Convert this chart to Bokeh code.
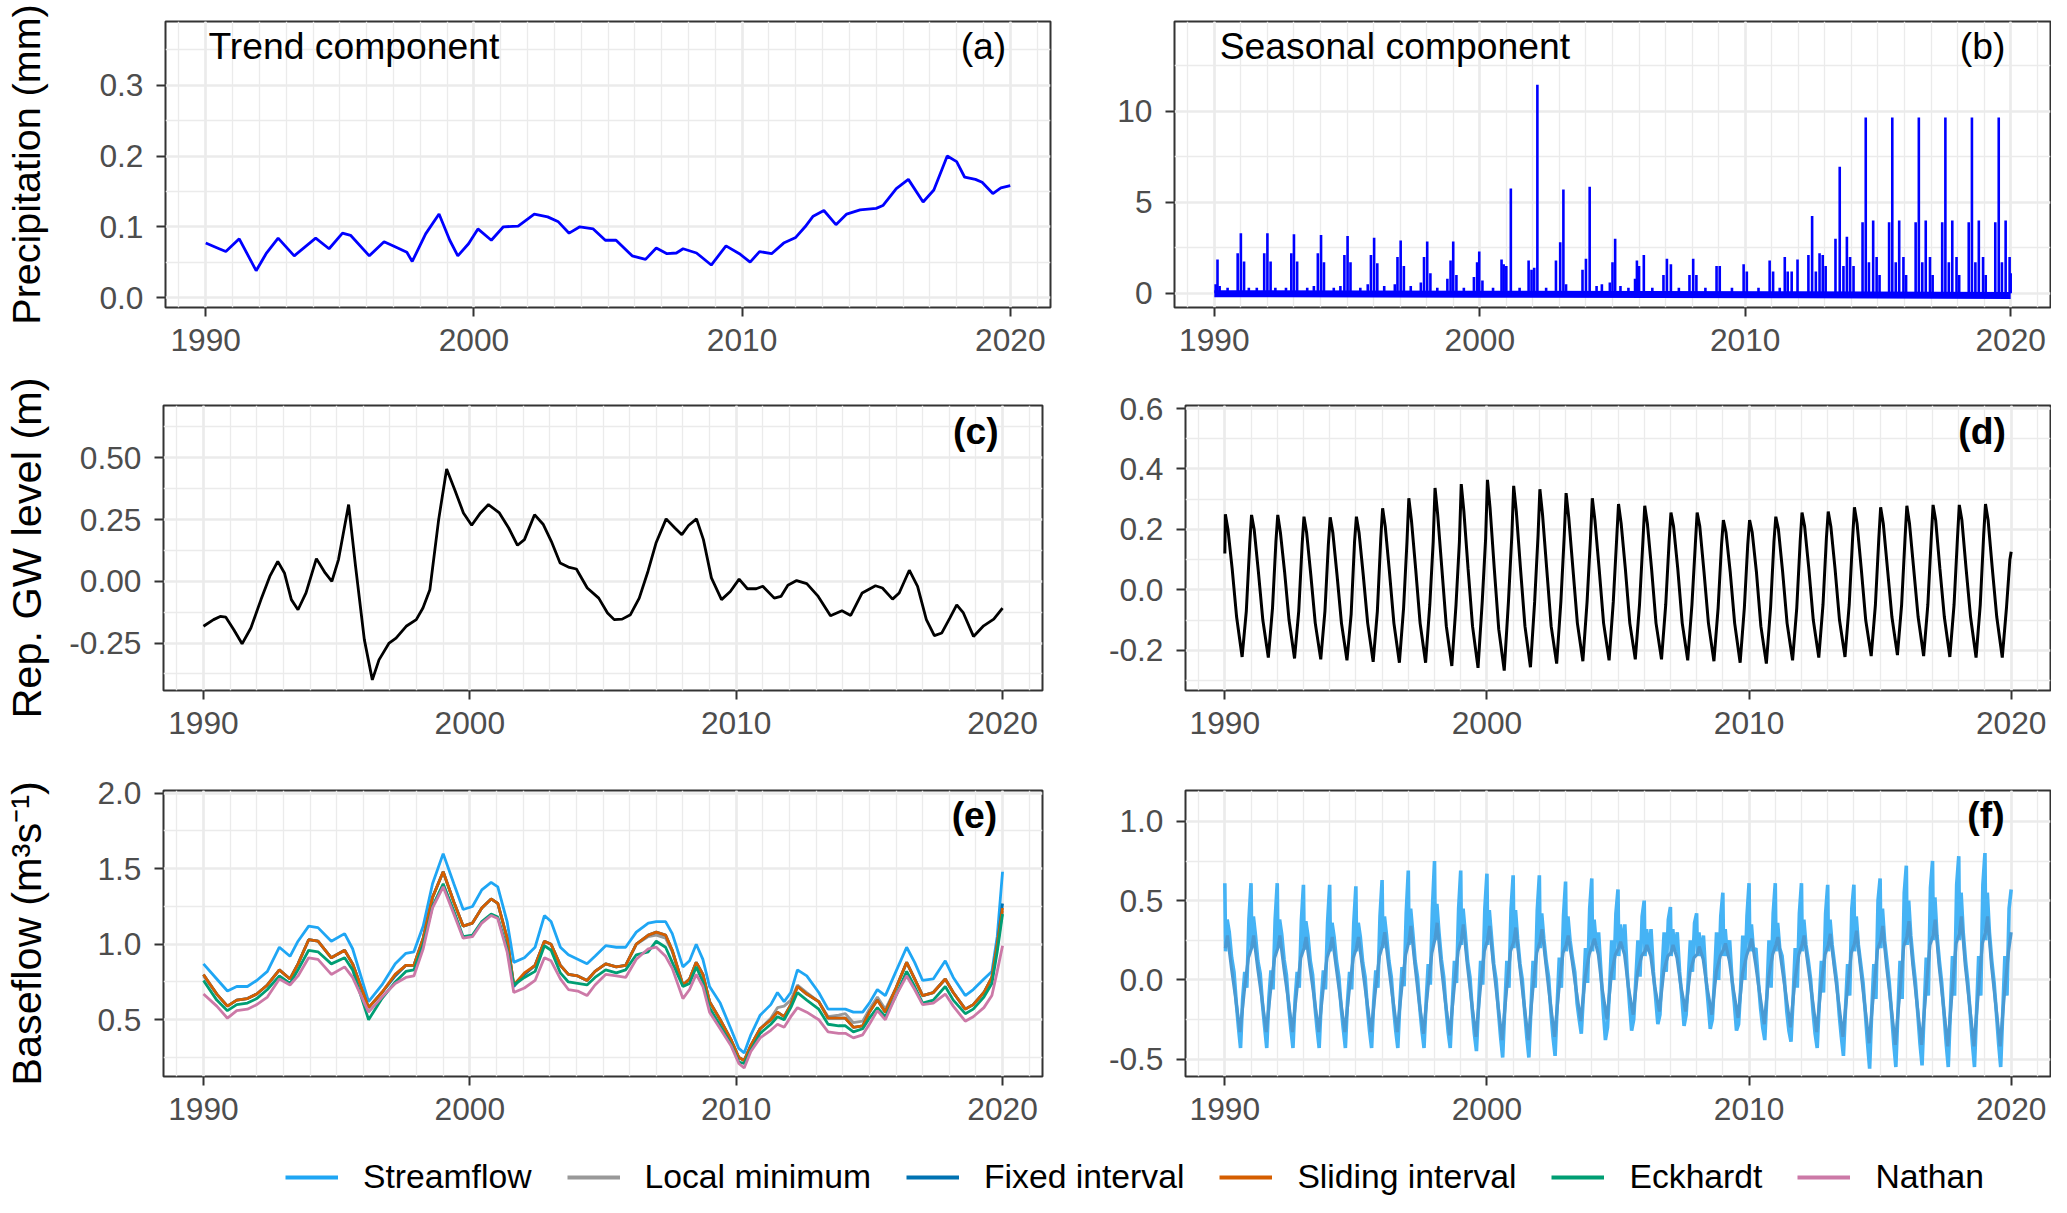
from bokeh.plotting import figure
from bokeh.models import Range1d, FixedTicker, PrintfTickFormatter, Label, Legend, LegendItem
from bokeh.layouts import column, row
from bokeh.embed import file_html
from bokeh.resources import INLINE

FONT = "Liberation Sans"
TICK_FS = "31.7px"
TITLE_FS = "41.5px"
TITLE_FS_A = "39.5px"
ANN_FS = "37.3px"
LEG_FS = "33.7px"

# ---------------- data ----------------
x_major = [1990, 2000, 2010, 2020]
x_minor = list(range(1988, 2023))

# (a) precipitation trend component (year, mm)
a_trend = [(1990.0, 0.077), (1990.5, 0.069), (1990.75, 0.065), (1991.25, 0.083), (1991.88, 0.038),
           (1992.25, 0.062), (1992.7, 0.084), (1993.3, 0.059), (1994.1, 0.084), (1994.6, 0.069),
           (1995.1, 0.091), (1995.4, 0.088), (1996.1, 0.059), (1996.65, 0.079), (1997.0, 0.073),
           (1997.5, 0.064), (1997.7, 0.051), (1998.2, 0.090), (1998.7, 0.118), (1999.1, 0.081),
           (1999.4, 0.059), (1999.8, 0.076), (2000.15, 0.097), (2000.65, 0.081), (2001.1, 0.100),
           (2001.65, 0.101), (2002.25, 0.118), (2002.75, 0.114), (2003.15, 0.107), (2003.55, 0.091),
           (2003.95, 0.100), (2004.45, 0.097), (2004.9, 0.081), (2005.3, 0.081), (2005.9, 0.059),
           (2006.4, 0.054), (2006.8, 0.070), (2007.2, 0.062), (2007.55, 0.063), (2007.8, 0.069),
           (2008.3, 0.063), (2008.85, 0.046), (2009.4, 0.073), (2009.9, 0.062), (2010.3, 0.050),
           (2010.65, 0.065), (2011.1, 0.062), (2011.55, 0.077), (2012.0, 0.085), (2012.35, 0.100),
           (2012.65, 0.115), (2013.05, 0.123), (2013.5, 0.103), (2013.9, 0.118), (2014.4, 0.124),
           (2015.0, 0.126), (2015.25, 0.130), (2015.75, 0.154), (2016.2, 0.167), (2016.75, 0.135),
           (2017.15, 0.152), (2017.65, 0.200), (2018.0, 0.192), (2018.3, 0.170), (2018.7, 0.167),
           (2018.95, 0.163), (2019.35, 0.147), (2019.65, 0.155), (2020.0, 0.158)]

# (b) precipitation seasonal component: spikes (year, mm) and the dense band near zero
b_spikes = [(1990.05, 0.5), (1990.12, 1.85), (1990.2, 0.4), (1990.5, 0.3),
            (1990.88, 2.2), (1991.0, 3.3), (1991.12, 1.75), (1991.3, 0.3), (1991.6, 0.3),
            (1991.88, 2.2), (1992.0, 3.3), (1992.12, 1.75), (1992.3, 0.3), (1992.7, 0.3),
            (1992.9, 2.2), (1993.0, 3.25), (1993.12, 1.75), (1993.5, 0.3), (1993.75, 0.4),
            (1993.9, 2.2), (1994.02, 3.2), (1994.13, 1.7), (1994.5, 0.3), (1994.75, 0.4),
            (1994.9, 2.1), (1995.02, 3.15), (1995.13, 1.7), (1995.5, 0.3), (1995.78, 0.5),
            (1995.9, 2.1), (1996.02, 3.05), (1996.14, 1.65), (1996.4, 0.4), (1996.8, 0.5),
            (1996.9, 2.0), (1997.02, 2.9), (1997.14, 1.5), (1997.4, 0.4), (1997.78, 0.6),
            (1997.9, 2.0), (1998.02, 2.85), (1998.14, 1.1), (1998.4, 0.3), (1998.78, 0.8),
            (1998.9, 1.8), (1999.0, 2.85), (1999.12, 1.0), (1999.4, 0.3), (1999.78, 0.9),
            (1999.9, 1.7), (1999.98, 2.3), (2000.1, 0.7), (2000.5, 0.3),
            (2000.82, 1.85), (2000.9, 1.6), (2001.0, 1.5), (2001.17, 5.75), (2001.5, 0.3),
            (2001.84, 1.8), (2001.95, 1.3), (2002.05, 1.4), (2002.17, 11.45), (2002.5, 0.3),
            (2002.87, 1.8), (2003.03, 2.8), (2003.15, 5.7), (2003.25, 0.5),
            (2003.87, 1.3), (2004.0, 1.9), (2004.14, 5.85), (2004.4, 0.4), (2004.6, 0.5),
            (2004.9, 0.6), (2005.0, 1.7), (2005.1, 3.0), (2005.3, 0.4), (2005.6, 0.3),
            (2005.85, 0.8), (2005.92, 1.8), (2006.0, 1.5), (2006.18, 2.1), (2006.5, 0.3),
            (2006.92, 1.0), (2007.05, 1.9), (2007.2, 1.6), (2007.5, 0.3),
            (2007.9, 1.0), (2008.04, 1.9), (2008.16, 1.0), (2008.5, 0.3),
            (2008.92, 1.5), (2009.04, 1.5), (2009.5, 0.3),
            (2009.94, 1.6), (2010.06, 1.2), (2010.5, 0.3),
            (2010.92, 1.8), (2011.05, 1.2), (2011.3, 0.3),
            (2011.49, 2.0), (2011.6, 1.2), (2011.75, 1.2), (2011.97, 1.85),
            (2012.38, 2.1), (2012.52, 4.25), (2012.66, 1.2), (2012.8, 2.2), (2012.92, 2.1), (2013.03, 1.5),
            (2013.4, 3.0), (2013.56, 6.95), (2013.7, 1.5), (2013.83, 3.1), (2013.95, 2.0), (2014.08, 1.5),
            (2014.42, 3.9), (2014.54, 9.65), (2014.66, 1.7), (2014.82, 4.0), (2014.95, 2.0), (2015.06, 1.0),
            (2015.42, 3.9), (2015.54, 9.65), (2015.67, 1.7), (2015.8, 4.0), (2015.96, 2.0), (2016.06, 1.0),
            (2016.42, 3.9), (2016.54, 9.65), (2016.67, 1.7), (2016.8, 4.0), (2016.96, 2.0), (2017.06, 1.0),
            (2017.42, 3.9), (2017.54, 9.65), (2017.67, 1.7), (2017.8, 4.0), (2017.96, 2.0), (2018.06, 1.0),
            (2018.42, 3.9), (2018.54, 9.65), (2018.67, 1.7), (2018.8, 4.0), (2018.96, 2.0), (2019.06, 1.0),
            (2019.42, 3.9), (2019.55, 9.65), (2019.67, 1.7), (2019.81, 4.0), (2019.96, 2.0), (2020.0, 1.1)]
b_band = [(1990.0, -0.02), (2000.0, -0.05), (2012.0, -0.08), (2020.0, -0.12)]

# (c) representative GW level trend component (year, m)
c_trend = [(1990.0, -0.182), (1990.38, -0.155), (1990.63, -0.142), (1990.84, -0.145), (1991.14, -0.196),
           (1991.45, -0.253), (1991.78, -0.189), (1992.16, -0.074), (1992.49, 0.020), (1992.79, 0.081),
           (1993.04, 0.034), (1993.30, -0.074), (1993.55, -0.115), (1993.85, -0.047), (1994.24, 0.092),
           (1994.57, 0.034), (1994.82, 0.0), (1995.07, 0.088), (1995.45, 0.311), (1995.71, 0.061),
           (1996.04, -0.236), (1996.34, -0.399), (1996.59, -0.318), (1996.97, -0.250), (1997.23, -0.230),
           (1997.61, -0.182), (1997.99, -0.155), (1998.24, -0.108), (1998.50, -0.034), (1998.83, 0.250),
           (1999.13, 0.455), (1999.43, 0.372), (1999.76, 0.277), (2000.07, 0.227), (2000.40, 0.277),
           (2000.70, 0.311), (2001.11, 0.277), (2001.46, 0.216), (2001.79, 0.146), (2002.05, 0.169),
           (2002.43, 0.270), (2002.76, 0.230), (2003.06, 0.162), (2003.39, 0.074), (2003.70, 0.058),
           (2004.00, 0.050), (2004.41, -0.027), (2004.84, -0.068), (2005.17, -0.128), (2005.42, -0.155),
           (2005.72, -0.153), (2006.03, -0.135), (2006.36, -0.068), (2006.69, 0.041), (2006.99, 0.155),
           (2007.37, 0.253), (2007.70, 0.216), (2007.96, 0.189), (2008.21, 0.226), (2008.51, 0.253),
           (2008.77, 0.169), (2009.07, 0.014), (2009.45, -0.074), (2009.78, -0.041), (2010.11, 0.009),
           (2010.42, -0.030), (2010.75, -0.030), (2011.00, -0.020), (2011.43, -0.068), (2011.68, -0.061),
           (2011.94, -0.016), (2012.27, 0.003), (2012.65, -0.009), (2013.08, -0.061), (2013.54, -0.139),
           (2013.97, -0.119), (2014.30, -0.138), (2014.73, -0.047), (2015.23, -0.018), (2015.49, -0.027),
           (2015.87, -0.072), (2016.12, -0.047), (2016.50, 0.045), (2016.81, -0.020), (2017.14, -0.155),
           (2017.44, -0.220), (2017.72, -0.209), (2018.02, -0.149), (2018.28, -0.095), (2018.53, -0.128),
           (2018.91, -0.223), (2019.29, -0.180), (2019.67, -0.153), (2020.0, -0.108)]

# (d) GW level seasonal component: one row per year, values at the fractions of the year in d_offsets
d_offsets = [0.02, 0.12, 0.28, 0.45, 0.66, 0.82, 0.95]
d_years = list(range(1990, 2020))
d_rows = [[0.250, 0.20, 0.07, -0.09, -0.222, -0.07, 0.15],
          [0.248, 0.20, 0.06, -0.10, -0.224, -0.06, 0.16],
          [0.248, 0.19, 0.06, -0.10, -0.227, -0.07, 0.15],
          [0.242, 0.19, 0.05, -0.11, -0.230, -0.07, 0.15],
          [0.240, 0.19, 0.05, -0.11, -0.233, -0.08, 0.16],
          [0.242, 0.19, 0.05, -0.11, -0.238, -0.07, 0.17],
          [0.270, 0.21, 0.06, -0.11, -0.241, -0.06, 0.16],
          [0.303, 0.23, 0.07, -0.11, -0.241, -0.05, 0.16],
          [0.337, 0.25, 0.07, -0.12, -0.252, -0.05, 0.16],
          [0.350, 0.26, 0.07, -0.12, -0.258, -0.04, 0.17],
          [0.364, 0.27, 0.07, -0.13, -0.267, -0.04, 0.18],
          [0.344, 0.26, 0.07, -0.12, -0.256, -0.04, 0.18],
          [0.333, 0.25, 0.07, -0.12, -0.244, -0.04, 0.18],
          [0.320, 0.24, 0.07, -0.11, -0.236, -0.04, 0.17],
          [0.303, 0.23, 0.07, -0.11, -0.233, -0.04, 0.17],
          [0.284, 0.22, 0.07, -0.11, -0.230, -0.05, 0.16],
          [0.278, 0.22, 0.07, -0.11, -0.230, -0.05, 0.16],
          [0.256, 0.21, 0.07, -0.11, -0.233, -0.05, 0.15],
          [0.256, 0.21, 0.06, -0.11, -0.236, -0.06, 0.15],
          [0.231, 0.19, 0.06, -0.11, -0.241, -0.06, 0.15],
          [0.231, 0.19, 0.06, -0.12, -0.244, -0.06, 0.16],
          [0.242, 0.20, 0.06, -0.11, -0.233, -0.06, 0.16],
          [0.256, 0.21, 0.07, -0.10, -0.224, -0.05, 0.17],
          [0.259, 0.21, 0.07, -0.10, -0.222, -0.05, 0.17],
          [0.273, 0.22, 0.07, -0.10, -0.219, -0.05, 0.17],
          [0.273, 0.22, 0.07, -0.09, -0.216, -0.05, 0.17],
          [0.278, 0.22, 0.07, -0.09, -0.219, -0.05, 0.17],
          [0.281, 0.23, 0.07, -0.09, -0.222, -0.05, 0.17],
          [0.281, 0.23, 0.07, -0.09, -0.224, -0.05, 0.18],
          [0.284, 0.23, 0.07, -0.09, -0.224, -0.06, 0.10]]
d_start = (1990.0, 0.12)
d_end = (2020.0, 0.126)

# (e) baseflow trend component: year, Streamflow, Local minimum, Fixed interval, Sliding interval, Eckhardt, Nathan
e_year = [1990.0, 1990.5, 1990.9, 1991.25, 1991.65, 1992.0, 1992.4, 1992.85, 1993.25, 1993.55,
          1993.95, 1994.3, 1994.8, 1995.3, 1995.6, 1996.2, 1996.7, 1997.2, 1997.6, 1997.9,
          1998.25, 1998.6, 1999.0, 1999.4, 1999.75, 2000.1, 2000.45, 2000.8, 2001.05, 2001.4,
          2001.65, 2002.05, 2002.45, 2002.8, 2003.05, 2003.4, 2003.7, 2004.05, 2004.4, 2004.7,
          2005.1, 2005.5, 2005.85, 2006.25, 2006.7, 2007.0, 2007.35, 2007.6, 2008.0, 2008.25,
          2008.5, 2008.75, 2009.0, 2009.4, 2009.8, 2010.1, 2010.3, 2010.55, 2010.9, 2011.3,
          2011.55, 2011.8, 2012.05, 2012.3, 2012.65, 2013.1, 2013.45, 2013.85, 2014.1, 2014.4,
          2014.75, 2015.0, 2015.3, 2015.6, 2016.0, 2016.4, 2016.7, 2017.0, 2017.4, 2017.85,
          2018.15, 2018.6, 2018.9, 2019.3, 2019.6, 2019.8, 2020.0]
e_streamflow = [0.87, 0.77, 0.69, 0.72, 0.72, 0.76, 0.82, 0.98, 0.92, 1.02,
                1.12, 1.11, 1.02, 1.07, 0.97, 0.62, 0.73, 0.87, 0.94, 0.95,
                1.12, 1.40, 1.60, 1.40, 1.23, 1.25, 1.36, 1.41, 1.38, 1.15,
                0.88, 0.91, 0.98, 1.19, 1.15, 0.98, 0.93, 0.90, 0.87, 0.92,
                0.99, 0.98, 0.98, 1.08, 1.14, 1.15, 1.15, 1.07, 0.85, 0.89,
                1.00, 0.90, 0.72, 0.61, 0.44, 0.31, 0.28, 0.40, 0.53, 0.60,
                0.68, 0.62, 0.68, 0.83, 0.79, 0.68, 0.57, 0.57, 0.57, 0.55,
                0.55, 0.61, 0.70, 0.66, 0.82, 0.98, 0.88, 0.76, 0.77, 0.89,
                0.78, 0.66, 0.70, 0.77, 0.82, 1.05, 1.48]
e_local_min = [0.79, 0.67, 0.59, 0.63, 0.64, 0.67, 0.73, 0.83, 0.77, 0.87,
               1.03, 1.02, 0.91, 0.96, 0.87, 0.58, 0.68, 0.80, 0.86, 0.86,
               1.04, 1.31, 1.48, 1.28, 1.12, 1.14, 1.24, 1.30, 1.27, 1.04,
               0.73, 0.80, 0.86, 1.02, 1.00, 0.86, 0.80, 0.79, 0.76, 0.82,
               0.87, 0.85, 0.86, 1.00, 1.05, 1.06, 1.04, 0.95, 0.73, 0.77,
               0.88, 0.80, 0.62, 0.50, 0.37, 0.25, 0.23, 0.33, 0.44, 0.51,
               0.58, 0.59, 0.63, 0.73, 0.68, 0.62, 0.52, 0.53, 0.54, 0.48,
               0.49, 0.57, 0.65, 0.57, 0.71, 0.88, 0.77, 0.66, 0.68, 0.77,
               0.68, 0.57, 0.60, 0.68, 0.78, 0.98, 1.22]
e_fixed = [0.80, 0.67, 0.59, 0.63, 0.64, 0.67, 0.73, 0.83, 0.77, 0.87,
           1.03, 1.02, 0.91, 0.96, 0.87, 0.58, 0.68, 0.79, 0.86, 0.86,
           1.04, 1.31, 1.48, 1.28, 1.12, 1.14, 1.24, 1.30, 1.27, 1.04,
           0.72, 0.80, 0.86, 1.02, 1.00, 0.86, 0.80, 0.79, 0.76, 0.82,
           0.87, 0.85, 0.86, 1.00, 1.06, 1.08, 1.06, 0.96, 0.73, 0.77,
           0.88, 0.80, 0.62, 0.50, 0.37, 0.25, 0.23, 0.33, 0.44, 0.50,
           0.55, 0.52, 0.60, 0.72, 0.67, 0.62, 0.51, 0.51, 0.51, 0.45,
           0.46, 0.55, 0.63, 0.55, 0.71, 0.88, 0.77, 0.66, 0.68, 0.77,
           0.68, 0.57, 0.60, 0.68, 0.78, 1.00, 1.27]
e_sliding = [0.80, 0.67, 0.59, 0.63, 0.64, 0.67, 0.73, 0.83, 0.77, 0.87,
             1.03, 1.02, 0.91, 0.96, 0.87, 0.58, 0.68, 0.80, 0.86, 0.86,
             1.04, 1.31, 1.48, 1.28, 1.12, 1.14, 1.24, 1.30, 1.27, 1.04,
             0.73, 0.81, 0.86, 1.02, 1.00, 0.86, 0.80, 0.79, 0.76, 0.82,
             0.87, 0.85, 0.86, 1.00, 1.06, 1.08, 1.06, 0.96, 0.73, 0.77,
             0.88, 0.80, 0.62, 0.50, 0.37, 0.25, 0.23, 0.33, 0.44, 0.50,
             0.55, 0.52, 0.60, 0.72, 0.67, 0.62, 0.51, 0.51, 0.51, 0.45,
             0.46, 0.55, 0.63, 0.55, 0.71, 0.88, 0.77, 0.66, 0.68, 0.77,
             0.68, 0.57, 0.60, 0.68, 0.78, 1.00, 1.24]
e_eckhardt = [0.76, 0.63, 0.56, 0.60, 0.61, 0.64, 0.70, 0.79, 0.74, 0.83,
              0.96, 0.95, 0.87, 0.91, 0.83, 0.50, 0.64, 0.75, 0.82, 0.83,
              1.00, 1.25, 1.40, 1.22, 1.05, 1.06, 1.15, 1.20, 1.18, 0.97,
              0.73, 0.78, 0.82, 0.99, 0.96, 0.81, 0.75, 0.74, 0.73, 0.78,
              0.83, 0.81, 0.83, 0.93, 0.95, 1.02, 0.98, 0.88, 0.72, 0.74,
              0.85, 0.75, 0.58, 0.46, 0.34, 0.22, 0.21, 0.30, 0.41, 0.47,
              0.52, 0.50, 0.58, 0.68, 0.63, 0.57, 0.47, 0.46, 0.46, 0.42,
              0.44, 0.51, 0.58, 0.52, 0.66, 0.82, 0.72, 0.61, 0.63, 0.72,
              0.63, 0.54, 0.57, 0.65, 0.74, 0.95, 1.20]
e_nathan = [0.67, 0.59, 0.51, 0.56, 0.57, 0.60, 0.65, 0.77, 0.73, 0.79,
            0.91, 0.90, 0.80, 0.85, 0.78, 0.55, 0.65, 0.74, 0.78, 0.79,
            0.97, 1.24, 1.38, 1.20, 1.04, 1.05, 1.14, 1.19, 1.17, 0.95,
            0.68, 0.71, 0.76, 0.91, 0.89, 0.77, 0.70, 0.69, 0.66, 0.73,
            0.80, 0.79, 0.78, 0.90, 0.97, 0.98, 0.92, 0.84, 0.64, 0.70,
            0.80, 0.72, 0.55, 0.44, 0.33, 0.21, 0.18, 0.29, 0.38, 0.43,
            0.47, 0.45, 0.52, 0.58, 0.55, 0.50, 0.42, 0.41, 0.41, 0.38,
            0.40, 0.47, 0.56, 0.50, 0.66, 0.79, 0.70, 0.60, 0.61, 0.67,
            0.59, 0.49, 0.52, 0.58, 0.66, 0.82, 0.99]

# (f) baseflow seasonal component: one row per year at the fractions of the year in f_offsets
f_offsets = [0.00, 0.03, 0.09, 0.17, 0.26, 0.35, 0.44, 0.52, 0.60, 0.68, 0.76, 0.84, 0.92]
f_years = list(range(1990, 2020))
f_streamflow_rows = [
    [0.61, 0.18, 0.38, 0.30, 0.14, 0.05, -0.15, -0.30, -0.43, -0.12, 0.05, -0.05, 0.38],
    [0.61, 0.20, 0.40, 0.28, 0.12, 0.04, -0.16, -0.30, -0.43, -0.12, 0.06, -0.06, 0.38],
    [0.61, 0.20, 0.38, 0.29, 0.13, 0.03, -0.17, -0.31, -0.43, -0.13, 0.05, -0.05, 0.37],
    [0.60, 0.19, 0.37, 0.28, 0.12, 0.03, -0.17, -0.31, -0.43, -0.13, 0.06, -0.06, 0.36],
    [0.60, 0.18, 0.36, 0.27, 0.12, 0.02, -0.18, -0.31, -0.43, -0.14, 0.05, -0.06, 0.36],
    [0.59, 0.18, 0.36, 0.27, 0.11, 0.02, -0.18, -0.32, -0.43, -0.14, 0.06, -0.05, 0.40],
    [0.63, 0.20, 0.40, 0.28, 0.12, 0.02, -0.18, -0.32, -0.43, -0.14, 0.08, -0.04, 0.42],
    [0.69, 0.22, 0.45, 0.30, 0.12, 0.02, -0.18, -0.32, -0.43, -0.14, 0.10, -0.03, 0.45],
    [0.75, 0.25, 0.48, 0.30, 0.13, 0.02, -0.18, -0.33, -0.43, -0.15, 0.12, -0.02, 0.45],
    [0.69, 0.22, 0.45, 0.30, 0.12, 0.02, -0.19, -0.34, -0.45, -0.16, 0.12, -0.03, 0.45],
    [0.67, 0.22, 0.44, 0.28, 0.10, 0.00, -0.20, -0.36, -0.49, -0.18, 0.12, -0.05, 0.45],
    [0.66, 0.20, 0.44, 0.26, 0.10, 0.00, -0.20, -0.36, -0.49, -0.18, 0.12, -0.05, 0.44],
    [0.66, 0.20, 0.42, 0.26, 0.12, 0.02, -0.20, -0.36, -0.48, -0.16, 0.14, -0.05, 0.40],
    [0.62, 0.18, 0.40, 0.25, 0.14, 0.05, -0.15, -0.25, -0.34, -0.10, 0.20, -0.02, 0.45],
    [0.64, 0.18, 0.38, 0.22, 0.30, 0.05, -0.20, -0.38, -0.30, -0.05, 0.25, 0.00, 0.42],
    [0.57, 0.15, 0.35, 0.20, 0.35, 0.05, -0.15, -0.32, -0.25, 0.00, 0.25, 0.02, 0.40],
    [0.50, 0.15, 0.32, 0.18, 0.32, 0.05, -0.12, -0.28, -0.22, 0.05, 0.30, 0.05, 0.38],
    [0.46, 0.15, 0.32, 0.18, 0.30, 0.05, -0.12, -0.29, -0.22, 0.00, 0.25, 0.05, 0.36],
    [0.42, 0.15, 0.30, 0.15, 0.28, 0.02, -0.15, -0.31, -0.25, 0.00, 0.30, 0.00, 0.40],
    [0.55, 0.15, 0.32, 0.15, 0.25, 0.00, -0.15, -0.32, -0.28, -0.05, 0.28, 0.00, 0.40],
    [0.61, 0.18, 0.35, 0.18, 0.20, 0.00, -0.18, -0.30, -0.38, -0.10, 0.25, -0.05, 0.42],
    [0.61, 0.18, 0.36, 0.20, 0.15, 0.00, -0.20, -0.32, -0.39, -0.12, 0.20, -0.05, 0.42],
    [0.61, 0.18, 0.38, 0.22, 0.12, 0.00, -0.20, -0.34, -0.43, -0.14, 0.12, -0.08, 0.42],
    [0.60, 0.18, 0.38, 0.22, 0.10, -0.02, -0.22, -0.36, -0.48, -0.18, 0.10, -0.10, 0.45],
    [0.60, 0.18, 0.40, 0.22, 0.10, -0.02, -0.22, -0.40, -0.56, -0.20, 0.10, -0.12, 0.50],
    [0.64, 0.20, 0.45, 0.25, 0.12, -0.02, -0.22, -0.40, -0.55, -0.20, 0.12, -0.12, 0.55],
    [0.72, 0.22, 0.50, 0.28, 0.12, -0.02, -0.22, -0.40, -0.54, -0.20, 0.14, -0.10, 0.58],
    [0.75, 0.25, 0.52, 0.28, 0.12, -0.02, -0.22, -0.40, -0.55, -0.20, 0.15, -0.10, 0.60],
    [0.78, 0.25, 0.55, 0.30, 0.12, -0.02, -0.22, -0.40, -0.55, -0.20, 0.15, -0.10, 0.60],
    [0.80, 0.25, 0.55, 0.30, 0.12, -0.02, -0.22, -0.40, -0.55, -0.20, 0.15, -0.10, 0.45]]
f_stream_end = (2020.0, 0.57)
f_base_offsets = [0.02, 0.10, 0.25, 0.40, 0.58, 0.75, 0.90]
f_baseflow_rows = [
    [0.20, 0.28, 0.08, -0.10, -0.33, -0.06, 0.14],
    [0.20, 0.28, 0.08, -0.10, -0.33, -0.06, 0.14],
    [0.20, 0.28, 0.08, -0.10, -0.33, -0.06, 0.14],
    [0.20, 0.27, 0.08, -0.10, -0.33, -0.06, 0.14],
    [0.20, 0.27, 0.08, -0.11, -0.33, -0.06, 0.14],
    [0.20, 0.27, 0.08, -0.11, -0.33, -0.06, 0.15],
    [0.22, 0.30, 0.09, -0.11, -0.33, -0.05, 0.16],
    [0.24, 0.34, 0.10, -0.12, -0.34, -0.05, 0.17],
    [0.26, 0.36, 0.10, -0.12, -0.35, -0.05, 0.18],
    [0.25, 0.35, 0.10, -0.12, -0.36, -0.05, 0.18],
    [0.25, 0.34, 0.09, -0.13, -0.38, -0.06, 0.18],
    [0.24, 0.33, 0.09, -0.13, -0.38, -0.06, 0.17],
    [0.24, 0.32, 0.10, -0.12, -0.36, -0.05, 0.17],
    [0.22, 0.28, 0.12, -0.06, -0.26, 0.02, 0.16],
    [0.22, 0.26, 0.16, -0.06, -0.25, 0.04, 0.16],
    [0.20, 0.24, 0.16, -0.05, -0.22, 0.05, 0.15],
    [0.18, 0.22, 0.15, -0.04, -0.20, 0.06, 0.15],
    [0.17, 0.22, 0.14, -0.04, -0.20, 0.05, 0.14],
    [0.16, 0.21, 0.13, -0.05, -0.22, 0.05, 0.15],
    [0.19, 0.23, 0.12, -0.06, -0.24, 0.04, 0.15],
    [0.21, 0.26, 0.10, -0.08, -0.28, 0.02, 0.16],
    [0.22, 0.27, 0.09, -0.09, -0.30, 0.00, 0.16],
    [0.22, 0.28, 0.09, -0.10, -0.33, -0.03, 0.16],
    [0.22, 0.29, 0.08, -0.12, -0.36, -0.06, 0.17],
    [0.23, 0.31, 0.08, -0.14, -0.40, -0.08, 0.19],
    [0.25, 0.34, 0.08, -0.14, -0.41, -0.08, 0.21],
    [0.27, 0.37, 0.09, -0.14, -0.41, -0.07, 0.22],
    [0.28, 0.38, 0.09, -0.14, -0.42, -0.07, 0.23],
    [0.29, 0.40, 0.09, -0.14, -0.42, -0.07, 0.23],
    [0.30, 0.40, 0.09, -0.14, -0.42, -0.07, 0.18]]
f_base_end = (2020.0, 0.30)

legend_names = ["Streamflow", "Local minimum", "Fixed interval", "Sliding interval", "Eckhardt", "Nathan"]
legend_colors = ["#1FA6F4", "#999999", "#0072B2", "#D55E00", "#009E73", "#CC79A7"]


# ---------------- helpers ----------------
def make_panel(w, h, bl, br, bt, bb, y_lo, y_hi, y_major, y_minor, fmt, ylabel=None, als=0, title_fs=TITLE_FS):
    p = figure(width=w, height=h, x_range=Range1d(1988.5, 2021.5), y_range=Range1d(y_lo, y_hi),
               output_backend="svg", toolbar_location=None,
               min_border_left=bl, min_border_right=br, min_border_top=bt, min_border_bottom=bb)
    p.background_fill_color = "white"
    p.border_fill_color = "white"
    p.outline_line_color = "#333333"
    p.outline_line_width = 2
    xt = FixedTicker(ticks=x_major, minor_ticks=x_minor)
    yt = FixedTicker(ticks=y_major, minor_ticks=y_minor)
    p.xaxis.ticker = xt
    p.xgrid.ticker = xt
    p.yaxis.ticker = yt
    p.ygrid.ticker = yt
    p.xaxis.formatter = PrintfTickFormatter(format="%d")
    p.yaxis.formatter = PrintfTickFormatter(format=fmt)
    for ax in (p.xaxis[0], p.yaxis[0]):
        ax.axis_line_color = None
        ax.major_tick_line_color = "#333333"
        ax.major_tick_line_width = 2
        ax.major_tick_out = 9
        ax.major_tick_in = 0
        ax.minor_tick_line_color = None
        ax.major_label_text_font = FONT
        ax.major_label_text_font_size = TICK_FS
        ax.major_label_text_color = "#4D4D4D"
    p.xaxis.major_label_standoff = 12
    p.yaxis.major_label_standoff = 13
    for g in (p.xgrid[0], p.ygrid[0]):
        g.grid_line_color = "#EBEBEB"
        g.grid_line_width = 2.7
        g.minor_grid_line_color = "#EBEBEB"
        g.minor_grid_line_width = 1.35
    if ylabel:
        p.yaxis.axis_label = ylabel
        p.yaxis.axis_label_text_font = FONT
        p.yaxis.axis_label_text_font_size = title_fs
        p.yaxis.axis_label_text_font_style = "normal"
        p.yaxis.axis_label_text_color = "black"
        p.yaxis.axis_label_standoff = als
    return p


def add_label(p, x, y, text, align, bold=False):
    p.add_layout(Label(x=x, y=y, text=text, text_font=FONT, text_font_size=ANN_FS,
                       text_align=align, text_baseline="middle", text_color="black",
                       text_font_style="bold" if bold else "normal"))


def flatten(years, offsets, rows):
    t, v = [], []
    for yr, r in zip(years, rows):
        for o, val in zip(offsets, r):
            t.append(yr + o)
            v.append(val)
    return t, v


WL, WR = 1100, 951

# (a)
pa = make_panel(WL, 359, 165, 50, 21, 52, -0.014, 0.39, [0.0, 0.1, 0.2, 0.3], [0.05, 0.15, 0.25, 0.35],
                "%.1f", "Precipitation (mm)", 48, TITLE_FS_A)
ax_t, ax_v = zip(*a_trend)
pa.line(list(ax_t), list(ax_v), line_color="#0000FF", line_width=2.8)
add_label(pa, 1990.1, 0.355, "Trend component", "left")
add_label(pa, 2019.85, 0.355, "(a)", "right")

# (b)
pb = make_panel(WR, 359, 74, 1, 21, 52, -0.78, 14.93, [0, 5, 10], [2.5, 7.5, 12.5], "%d")
bb_t, bb_v = zip(*b_band)
pb.line(list(bb_t), list(bb_v), line_color="#0000FF", line_width=7)
bs_t, bs_h = zip(*b_spikes)
pb.segment(x0=list(bs_t), y0=[0.0] * len(bs_t), x1=list(bs_t), y1=list(bs_h),
           line_color="#0000FF", line_width=2.6)
add_label(pb, 1990.2, 13.56, "Seasonal component", "left")
add_label(pb, 2019.8, 13.56, "(b)", "right")

# (c)
pc = make_panel(WL, 386, 163, 58, 46, 55, -0.442, 0.712, [-0.25, 0.0, 0.25, 0.5],
                [-0.375, -0.125, 0.125, 0.375, 0.625], "%.2f", "Rep. GW level (m)", 16)
c_t, c_v = zip(*c_trend)
pc.line(list(c_t), list(c_v), line_color="black", line_width=2.8)
add_label(pc, 2019.85, 0.609, "(c)", "right", bold=True)

# (d)
pd_ = make_panel(WR, 386, 85, 1, 46, 55, -0.333, 0.61, [-0.2, 0.0, 0.2, 0.4, 0.6],
                 [-0.3, -0.1, 0.1, 0.3, 0.5], "%.1f")
d_t, d_v = flatten(d_years, d_offsets, d_rows)
d_t = [d_start[0]] + d_t + [d_end[0]]
d_v = [d_start[1]] + d_v + [d_end[1]]
pd_.line(d_t, d_v, line_color="black", line_width=3.0)
add_label(pd_, 2019.8, 0.527, "(d)", "right", bold=True)

# (e)
pe = make_panel(WL, 386, 163, 58, 45, 55, 0.124, 2.018, [0.5, 1.0, 1.5, 2.0], [0.25, 0.75, 1.25, 1.75],
                "%.1f", "Baseflow (m\u00b3s\u207b\u00b9)", 44)
for vals, col in zip([e_streamflow, e_local_min, e_fixed, e_sliding, e_eckhardt, e_nathan], legend_colors):
    pe.line(e_year, vals, line_color=col, line_width=2.8)
add_label(pe, 2019.8, 1.857, "(e)", "right", bold=True)

# (f)
pf = make_panel(WR, 386, 85, 1, 45, 55, -0.61, 1.195, [-0.5, 0.0, 0.5, 1.0], [-0.25, 0.25, 0.75], "%.1f")
fs_t, fs_v = flatten(f_years, f_offsets, f_streamflow_rows)
fs_t.append(f_stream_end[0]); fs_v.append(f_stream_end[1])
fb_t, fb_v = flatten(f_years, f_base_offsets, f_baseflow_rows)
fb_t.append(f_base_end[0]); fb_v.append(f_base_end[1])
pf.line(fs_t, fs_v, line_color="#45B3F5", line_width=3.6)
pf.line(fb_t, fb_v, line_color="#4A9AD3", line_width=3.2)
add_label(pf, 2019.75, 1.04, "(f)", "right", bold=True)

# legend strip
pl = figure(width=WL + WR, height=66, x_range=Range1d(0, 1), y_range=Range1d(0, 1),
            output_backend="svg", toolbar_location=None, min_border=0,
            x_axis_type=None, y_axis_type=None)
pl.outline_line_color = None
pl.background_fill_color = "white"
pl.border_fill_color = "white"
items = []
for name, col in zip(legend_names, legend_colors):
    r = pl.line(x=[5, 6], y=[5, 6], line_color=col, line_width=4)
    items.append(LegendItem(label=name, renderers=[r]))
leg = Legend(items=items, orientation="horizontal", location=(285, 1),
             label_text_font=FONT, label_text_font_size=LEG_FS, label_text_color="black",
             label_standoff=25, glyph_width=53, glyph_height=30, spacing=35,
             padding=0, margin=0, border_line_color=None, background_fill_alpha=0)
pl.add_layout(leg)

layout = column(row(pa, pb), row(pc, pd_), row(pe, pf), pl)
open("out.html", "w").write(file_html(layout, INLINE))
